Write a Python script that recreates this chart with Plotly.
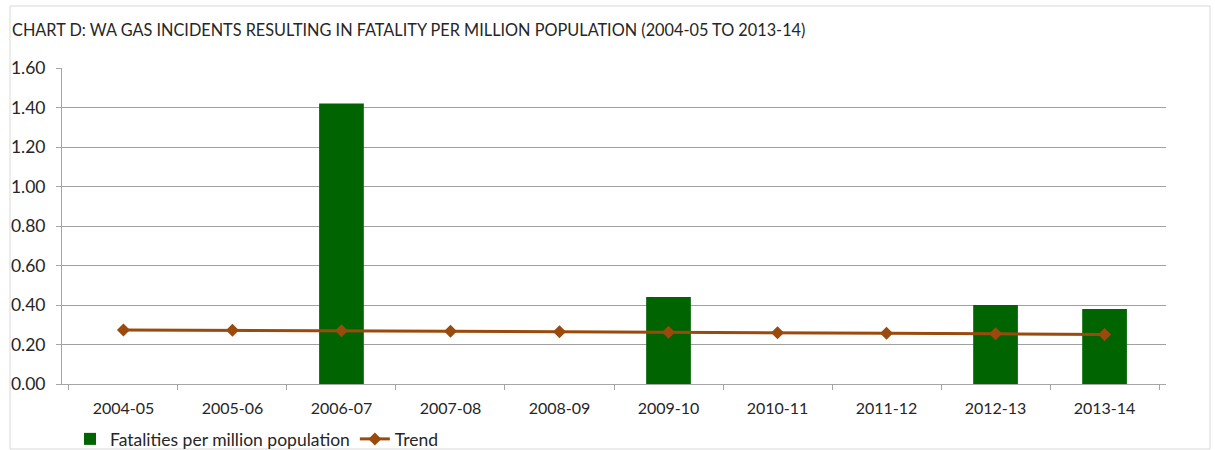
import plotly.graph_objects as go

years = ["2004-05", "2005-06", "2006-07", "2007-08", "2008-09",
         "2009-10", "2010-11", "2011-12", "2012-13", "2013-14"]
fatalities = [0, 0, 1.42, 0, 0, 0.44, 0, 0, 0.40, 0.38]
trend = [0.274, 0.272, 0.270, 0.267, 0.265, 0.262, 0.259, 0.257, 0.254, 0.251]
y_ticks = [0, 0.2, 0.4, 0.6, 0.8, 1.0, 1.2, 1.4, 1.6]

FONT = "Lato"
fig = go.Figure()
fig.add_trace(go.Bar(x=years, y=fatalities, name="Fatalities per million population",
                     marker=dict(color="#006400", line=dict(width=0))))
fig.add_trace(go.Scatter(x=years, y=trend, name="Trend", mode="lines+markers",
                         line=dict(color="#9a4a0c", width=3),
                         marker=dict(symbol="diamond", size=10, color="#9a4a0c")))

fig.update_layout(
    width=1215, height=450,
    margin=dict(l=62, r=49, t=68, b=66, autoexpand=False),
    paper_bgcolor="white", plot_bgcolor="white",
    bargap=0.59,
    font=dict(family=FONT, size=16, color="#262626"),
    title=dict(text="CHART D: WA GAS INCIDENTS RESULTING IN FATALITY PER MILLION POPULATION (2004-05 TO 2013-14)",
               x=12/1215, xanchor="left", y=1-30/450, yanchor="middle",
               font=dict(family=FONT, size=16.3, color="#262626")),
    legend=dict(orientation="h", x=70/1215, xanchor="left", xref="container",
                y=1-439/450, yanchor="middle", yref="container",
                font=dict(family=FONT, size=17.5, color="#262626"),
                bgcolor="rgba(0,0,0,0)", itemwidth=30, traceorder="normal"),
    showlegend=True,
)
fig.update_xaxes(type="category", showgrid=False, showline=True, linecolor="#a6a6a6",
                 linewidth=1, ticks="outside", tickson="boundaries", ticklen=5,
                 tickcolor="#a6a6a6", tickfont=dict(size=16), ticklabelstandoff=10,
                 automargin=False)
fig.update_yaxes(range=[0, 1.6], tickvals=y_ticks, tickformat=".2f", showgrid=True,
                 gridcolor="#a0a0a0", gridwidth=1, showline=True, linecolor="#a6a6a6",
                 ticks="outside", ticklen=5, tickcolor="#a6a6a6", zeroline=False,
                 tickfont=dict(size=17.5), ticklabelstandoff=7, automargin=False)
fig.add_shape(type="rect", xref="paper", yref="paper",
              x0=(10-62)/1104, x1=(1210-62)/1104, y0=(384-449)/316, y1=(384-6)/316,
              line=dict(color="#d9d9d9", width=1), fillcolor="rgba(0,0,0,0)", layer="below")
fig.write_html("out.html")
